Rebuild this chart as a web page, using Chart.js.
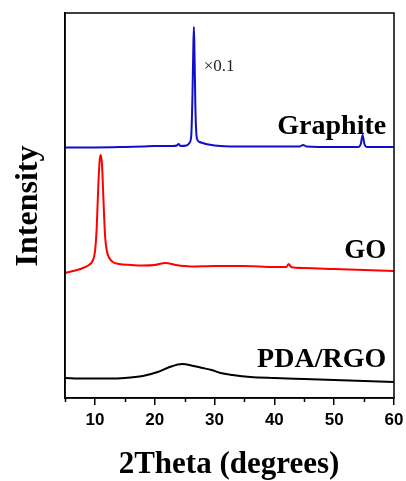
<!DOCTYPE html>
<html>
<head>
<meta charset="utf-8">
<script src="https://cdn.jsdelivr.net/npm/chart.js@4/dist/chart.umd.min.js"></script>
<style>
  html, body { margin: 0; padding: 0; background: #fff; }
  #wrap { width: 406px; height: 481px; }
</style>
</head>
<body>
<div id="wrap"><canvas id="xrd"></canvas></div>
<script>
// XRD patterns, 2theta in degrees, intensity in arbitrary (offset) units
const graphiteTheta = [5, 10, 15, 18, 20, 23, 23.7, 24.0, 24.3, 25.3, 25.8, 26.1, 26.3, 26.45, 26.55, 26.65, 26.8, 26.95, 27.15, 27.5, 28, 29, 31, 35, 40, 44.2, 44.8, 45.4, 50, 54.0, 54.45, 54.75, 55.05, 55.5, 60];
const graphiteInt   = [250.5, 250.5, 251, 251.5, 252, 252, 252.5, 254, 252, 252.5, 255, 262, 300, 350, 371, 345, 290, 265, 258, 256, 255, 253.5, 252, 251.5, 251.5, 251.5, 253, 251.5, 251, 251, 254, 263, 254, 251, 251];

const goTheta = [5, 6, 7, 8, 9, 9.6, 10.0, 10.3, 10.55, 10.8, 11.0, 11.2, 11.45, 11.7, 12.0, 12.4, 13, 14, 16, 18, 20, 21.8, 23.5, 26, 30, 35, 40, 42.0, 42.4, 42.8, 45, 50, 55, 60];
const goInt   = [125, 126.5, 128, 130, 133, 137, 146, 170, 210, 238, 243, 232, 195, 162, 147, 140, 136, 134, 133, 132.5, 133, 135, 133, 131.5, 132, 132, 131, 131, 134, 131, 130, 129, 128, 127];

const pdaTheta = [5, 8, 12, 15, 18, 20.5, 22.5, 24.6, 26.5, 28, 29.5, 31, 33, 36, 40, 45, 50, 55, 60];
const pdaInt   = [20, 19.5, 19.5, 20, 22, 26, 31, 34, 32, 30, 28, 25, 23, 21, 20, 19, 18, 17, 16];

const xMin = 5, xMax = 60;
const yMin = 0, yMax = 385;

function toPoints(xs, ys) {
    return xs.map((x, i) => ({ x: x, y: ys[i] }));
}

// frame, minor ticks and all the text annotations
const decorPlugin = {
    id: 'decor',
    afterDraw(chart) {
        const ctx = chart.ctx;
        const area = chart.chartArea;
        const xs = chart.scales.x;
        const ys = chart.scales.y;
        ctx.save();

        // box round the plot
        ctx.strokeStyle = '#000';
        ctx.lineWidth = 1.5;
        ctx.strokeRect(area.left, area.top, area.right - area.left, area.bottom - area.top);

        // minor ticks
        for (let v = 5; v < 60; v += 10) {
            const px = Math.round(xs.getPixelForValue(v)) + 0.5;
            ctx.beginPath();
            ctx.moveTo(px, area.bottom);
            ctx.lineTo(px, area.bottom + 4);
            ctx.stroke();
        }

        ctx.fillStyle = '#000';

        // axis titles
        ctx.font = 'bold 31px "Liberation Serif"';
        ctx.textAlign = 'center';
        ctx.textBaseline = 'alphabetic';
        ctx.fillText('2Theta (degrees)', 229, 473);

        ctx.save();
        ctx.translate(37, 206);
        ctx.rotate(-Math.PI / 2);
        ctx.font = 'bold 32px "Liberation Serif"';
        ctx.fillText('Intensity', 0, 0);
        ctx.restore();

        // series labels
        ctx.textAlign = 'right';
        ctx.font = 'bold 28px "Liberation Serif"';
        const rx = xs.getPixelForValue(58.7);
        ctx.fillText('Graphite', rx, ys.getPixelForValue(264));
        ctx.font = 'bold 27px "Liberation Serif"';
        ctx.fillText('GO', rx, ys.getPixelForValue(140));
        ctx.font = 'bold 28px "Liberation Serif"';
        ctx.fillText('PDA/RGO', rx, ys.getPixelForValue(31));

        // scale factor note beside the graphite peak
        ctx.textAlign = 'left';
        ctx.fillStyle = '#222';
        ctx.font = '17px "Liberation Serif"';
        ctx.fillText('\u00d70.1', xs.getPixelForValue(28.2), ys.getPixelForValue(327));

        ctx.restore();
    }
};

const lineStyle = {
    borderWidth: 2,
    pointRadius: 0,
    cubicInterpolationMode: 'monotone',
    fill: false
};

new Chart(document.getElementById('xrd').getContext('2d'), {
    type: 'line',
    data: {
        datasets: [
            Object.assign({ label: 'Graphite', data: toPoints(graphiteTheta, graphiteInt), borderColor: '#1010c8' }, lineStyle),
            Object.assign({ label: 'GO', data: toPoints(goTheta, goInt), borderColor: '#ff0000' }, lineStyle),
            Object.assign({ label: 'PDA/RGO', data: toPoints(pdaTheta, pdaInt), borderColor: '#000000' }, lineStyle)
        ]
    },
    options: {
        responsive: true,
        maintainAspectRatio: false,
        animation: false,
        devicePixelRatio: 1,
        layout: { padding: { top: 13, right: 12, left: 0, bottom: 0 } },
        plugins: {
            legend: { display: false },
            tooltip: { enabled: false }
        },
        scales: {
            x: {
                type: 'linear',
                min: xMin,
                max: xMax,
                ticks: {
                    stepSize: 5,
                    autoSkip: false,
                    maxRotation: 0,
                    padding: 5,
                    color: '#000',
                    font: { family: '"Liberation Sans"', size: 17, weight: 'bold' },
                    callback: v => (v % 10 === 0 ? v : '')
                },
                grid: {
                    drawOnChartArea: false,
                    drawTicks: true,
                    tickLength: 7,
                    lineWidth: 1.5,
                    color: c => (c.tick && c.tick.value % 10 === 0 ? '#000' : 'rgba(0,0,0,0)')
                },
                border: { display: true, color: '#000', width: 1.5 },
                afterFit: s => { s.height = 83; s.paddingLeft = 0; s.paddingRight = 0; }
            },
            y: {
                min: yMin,
                max: yMax,
                ticks: { display: false },
                grid: { display: false },
                border: { display: true, color: '#000', width: 1.5 },
                afterFit: s => { s.width = 65; }
            }
        }
    },
    plugins: [decorPlugin]
});
</script>
</body>
</html>
